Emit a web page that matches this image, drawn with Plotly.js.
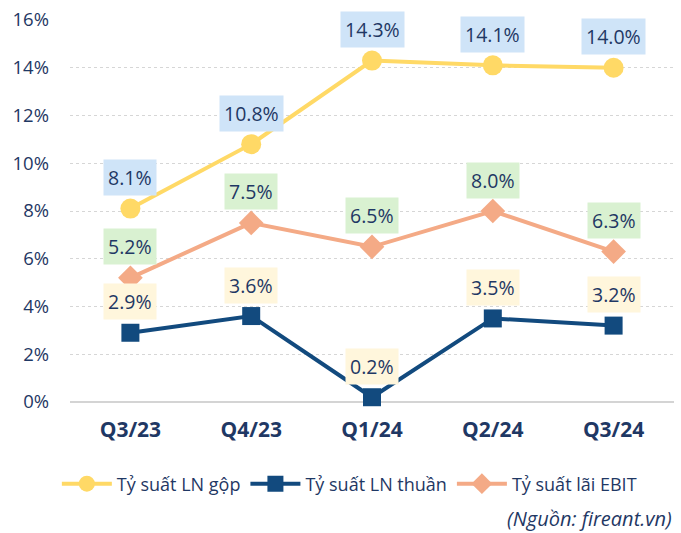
<!DOCTYPE html>
<html><head><meta charset="utf-8">
<script src="https://cdn.plot.ly/plotly-3.0.1.min.js"></script>
<style>html,body{margin:0;padding:0;background:#fff;}#chart{width:681px;height:533px;}</style>
</head><body><div id="chart"></div>
<script>
const categories = ["Q3/23", "Q4/23", "Q1/24", "Q2/24", "Q3/24"];
const grossMargin = [8.1, 10.8, 14.3, 14.1, 14.0];
const netMargin = [2.9, 3.6, 0.2, 3.5, 3.2];
const ebitMargin = [5.2, 7.5, 6.5, 8.0, 6.3];
const seriesNames = ["Tỷ suất LN gộp", "Tỷ suất LN thuần", "Tỷ suất lãi EBIT"];
const yTicks = [0, 2, 4, 6, 8, 10, 12, 14, 16];

const navy = "#1F3864";
const font = "Open Sans, Noto Sans, sans-serif";
const cGross = "#FFD966", cNet = "#124A7E", cEbit = "#F4AA86";

const traces = [
  {x: categories, y: grossMargin, name: seriesNames[0], type: "scatter", mode: "lines+markers",
   line: {color: cGross, width: 4}, marker: {symbol: "circle", size: 20, color: cGross}, cliponaxis: false},
  {x: categories, y: netMargin, name: seriesNames[1], type: "scatter", mode: "lines+markers",
   line: {color: cNet, width: 4}, marker: {symbol: "square", size: 18, color: cNet}, cliponaxis: false},
  {x: categories, y: ebitMargin, name: seriesNames[2], type: "scatter", mode: "lines+markers",
   line: {color: cEbit, width: 4}, marker: {symbol: "diamond", size: 19, color: cEbit}, cliponaxis: false}
];

function labels(vals, bg) {
  return vals.map((v, i) => ({
    x: categories[i], y: v, xref: "x", yref: "y", text: v.toFixed(1) + "%",
    showarrow: false, yshift: 31, bgcolor: bg, borderpad: 4,
    font: {family: font, size: 19.5, color: navy}
  }));
}

const annotations = [
  ...labels(grossMargin, "#CFE4F8"),
  ...labels(ebitMargin, "#D9F1D1"),
  ...labels(netMargin, "#FFF6DC"),
  {xref: "paper", yref: "paper", x: 1.0, y: -0.304, xanchor: "right", yanchor: "middle", showarrow: false,
   text: "<i>(Nguồn: fireant.vn)</i>", font: {family: font, size: 20, color: navy}}
];

const layout = {
  width: 681, height: 533,
  margin: {l: 70, r: 7, t: 20, b: 131},
  paper_bgcolor: "#fff", plot_bgcolor: "#fff",
  font: {family: font, color: navy},
  showlegend: true,
  legend: {orientation: "h", xref: "container", x: 0.513, xanchor: "center", yref: "container", y: 0.092, yanchor: "middle",
           font: {family: font, size: 18, color: navy}, itemwidth: 50},
  xaxis: {type: "category", range: [-0.5, 4.5], showgrid: false, showline: false, zeroline: false,
          tickfont: {family: font, size: 21, color: navy, weight: "bold"}, ticks: "", ticklabelstandoff: 13},
  yaxis: {range: [0, 16], tickvals: yTicks, ticktext: yTicks.map(t => t + "%"),
          showgrid: true, gridcolor: "#d6d6d6", griddash: "dot", gridwidth: 1,
          zeroline: true, zerolinecolor: "#d4d4d4", zerolinewidth: 2, showline: false,
          tickfont: {family: font, size: 18.5, color: navy}, ticks: "", ticklabelstandoff: 20},
  annotations: annotations
};

Plotly.newPlot("chart", traces, layout, {displayModeBar: false, staticPlot: true});
</script></body></html>
